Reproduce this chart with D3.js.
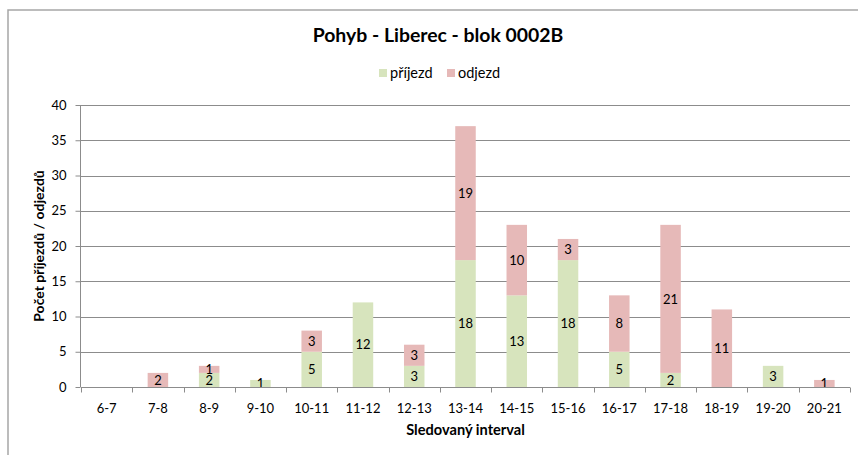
<!DOCTYPE html>
<html>
<head>
<meta charset="utf-8">
<script src="https://cdn.jsdelivr.net/npm/d3@7"></script>
<style>
  body { margin: 0; background: #fff; }
  svg { display: block; font-family: Lato, "Open Sans", sans-serif; }
</style>
</head>
<body>
<div id="chart"></div>
<script>
// data
const intervals = ["6-7", "7-8", "8-9", "9-10", "10-11", "11-12", "12-13", "13-14",
                   "14-15", "15-16", "16-17", "17-18", "18-19", "19-20", "20-21"];
const prijezd = [0, 0, 2, 1, 5, 12, 3, 18, 13, 18, 5, 2, 0, 3, 0];
const odjezd  = [0, 2, 1, 0, 3, 0, 3, 19, 10, 3, 8, 21, 11, 0, 1];
const seriesNames = ["příjezd", "odjezd"];
const seriesColors = ["#d7e4bd", "#e6b9b8"];
const yTicks = [0, 5, 10, 15, 20, 25, 30, 35, 40];

const width = 858, height = 455;
const margin = {top: 105, right: 8, bottom: 68, left: 81};

const table = intervals.map((k, i) => ({interval: k, "příjezd": prijezd[i], "odjezd": odjezd[i]}));
const stacked = d3.stack().keys(seriesNames)(table);

const x = d3.scaleBand(intervals, [margin.left, width - margin.right])
    .paddingInner(0.6).paddingOuter(0.3);
const y = d3.scaleLinear([0, 40], [height - margin.bottom, margin.top]);
const color = d3.scaleOrdinal(seriesNames, seriesColors);

const svg = d3.select("#chart").append("svg")
    .attr("width", width)
    .attr("height", height);

// outer frame (right/bottom edges run off the picture)
svg.append("rect")
    .attr("x", 8).attr("y", 10)
    .attr("width", 900).attr("height", 500)
    .attr("fill", "none")
    .attr("stroke", "#a6a6a6")
    .attr("stroke-width", 1.5);

// gridlines
svg.append("g")
    .selectAll("line")
    .data(yTicks.filter(d => d > 0))
    .join("line")
        .attr("x1", margin.left).attr("x2", width - margin.right)
        .attr("y1", d => Math.round(y(d)) + 0.5).attr("y2", d => Math.round(y(d)) + 0.5)
        .attr("stroke", "#8c8c8c");

// bars
svg.append("g")
    .selectAll("g")
    .data(stacked)
    .join("g")
        .attr("fill", d => color(d.key))
    .selectAll("rect")
    .data(d => d)
    .join("rect")
        .attr("x", d => x(d.data.interval))
        .attr("width", x.bandwidth())
        .attr("y", d => y(d[1]))
        .attr("height", d => y(d[0]) - y(d[1]));

// value labels
svg.append("g")
    .style("font-size", "13px")
    .attr("text-anchor", "middle")
    .selectAll("g")
    .data(stacked)
    .join("g")
    .selectAll("text")
    .data(d => d.filter(v => v[1] - v[0] > 0))
    .join("text")
        .attr("x", d => x(d.data.interval) + x.bandwidth() / 2)
        .attr("y", d => (y(d[0]) + y(d[1])) / 2)
        .attr("dy", "0.36em")
        .attr("fill", "#000")
        .text(d => d[1] - d[0]);

// x axis
const xAxis = svg.append("g")
    .attr("transform", `translate(0,${Math.round(y(0)) + 0.5})`);
xAxis.append("line")
    .attr("x1", margin.left).attr("x2", width - margin.right)
    .attr("stroke", "#8c8c8c");
const step = (width - margin.right - margin.left) / intervals.length;
xAxis.selectAll("line.tick")
    .data(d3.range(intervals.length + 1))
    .join("line")
        .attr("class", "tick")
        .attr("x1", i => Math.round(margin.left + i * step) + 0.5)
        .attr("x2", i => Math.round(margin.left + i * step) + 0.5)
        .attr("y1", 0).attr("y2", 5)
        .attr("stroke", "#8c8c8c");
xAxis.selectAll("text")
    .data(intervals)
    .join("text")
        .attr("x", d => x(d) + x.bandwidth() / 2)
        .attr("y", 25)
        .attr("text-anchor", "middle")
        .style("font-size", "13px")
        .attr("fill", "#000")
        .text(d => d);

// y axis
const yAxis = svg.append("g")
    .attr("transform", `translate(${margin.left - 0.5},0)`)
    .call(d3.axisLeft(y).tickValues(yTicks).tickSize(5).tickPadding(9))
    .call(g => g.select(".domain").attr("stroke", "#8c8c8c").attr("d", `M0,${y(40)}V${y(0)}`));
yAxis.selectAll(".tick line").attr("stroke", "#8c8c8c");
yAxis.selectAll(".tick text")
    .style("font-size", "13px")
    .style("font-family", "Lato, sans-serif")
    .attr("fill", "#000");

// axis titles
svg.append("text")
    .attr("x", (margin.left + width - margin.right) / 2)
    .attr("y", 435)
    .attr("text-anchor", "middle")
    .style("font-size", "14.6px")
    .style("font-weight", "bold")
    .text("Sledovaný interval");

svg.append("text")
    .attr("transform", `translate(44,${(y(0) + y(40)) / 2}) rotate(-90)`)
    .attr("text-anchor", "middle")
    .style("font-size", "14px")
    .style("font-weight", "bold")
    .text("Počet příjezdů / odjezdů");

// title
svg.append("text")
    .attr("x", 438)
    .attr("y", 42)
    .attr("text-anchor", "middle")
    .style("font-size", "19.4px")
    .style("font-weight", "bold")
    .text("Pohyb - Liberec - blok 0002B");

// legend
const legendX = [379, 447];
const legend = svg.append("g")
    .selectAll("g")
    .data(seriesNames)
    .join("g")
        .attr("transform", (d, i) => `translate(${legendX[i]},69)`);
legend.append("rect")
    .attr("width", 8).attr("height", 8)
    .attr("fill", d => color(d));
legend.append("text")
    .attr("x", 11).attr("y", 4)
    .attr("dy", "0.36em")
    .style("font-size", "14.5px")
    .text(d => d);
</script>
</body>
</html>
